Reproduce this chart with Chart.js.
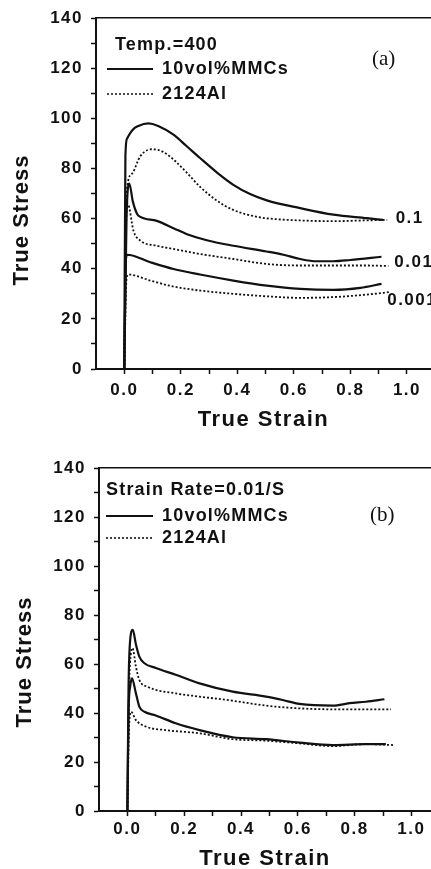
<!DOCTYPE html>
<html>
<head>
<meta charset="utf-8">
<script src="https://cdn.jsdelivr.net/npm/chart.js@4.4.0/dist/chart.umd.min.js"></script>
<style>
  html, body { margin: 0; padding: 0; background: #fff; overflow: hidden; }
  .panel { position: absolute; left: 0; width: 431px; }
  #pa { top: 0; height: 434px; }
  #pb { top: 434px; height: 440px; }
</style>
</head>
<body>
<div class="panel" id="pa"><canvas id="chartA" width="431" height="434"></canvas></div>
<div class="panel" id="pb"><canvas id="chartB" width="431" height="440"></canvas></div>
<script>
// tick values
const xTickVals = [0, 0.1, 0.2, 0.3, 0.4, 0.5, 0.6, 0.7, 0.8, 0.9, 1.0];
const yTickStep = 10;

// (a) Temp.=400, three strain rates
const aMmc01Strain = [0, 0.004, 0.01, 0.03, 0.05, 0.085, 0.12, 0.174, 0.22, 0.268, 0.327, 0.386, 0.445, 0.504, 0.622, 0.74, 0.858, 0.915];
const aMmc01Stress = [0, 85, 92, 95.5, 97, 98, 97, 93.5, 89, 84.2, 78.5, 73.5, 69.8, 67.3, 64.2, 61.6, 60.2, 59.5];
const aAl01Strain = [0, 0.006, 0.012, 0.028, 0.057, 0.1, 0.14, 0.18, 0.22, 0.27, 0.33, 0.385, 0.45, 0.5, 0.62, 0.74, 0.85, 0.93];
const aAl01Stress = [0, 60, 74, 78, 85, 87.7, 86.5, 83, 78.5, 72.5, 67, 63.5, 61.2, 60.2, 59.3, 59, 59.3, 59.5];

const aMmc001Strain = [0, 0.008, 0.018, 0.03, 0.045, 0.057, 0.115, 0.174, 0.222, 0.292, 0.386, 0.504, 0.563, 0.622, 0.681, 0.74, 0.799, 0.91];
const aMmc001Stress = [0, 60, 74, 67, 62, 60.7, 59.1, 56.2, 53.8, 51.4, 49.2, 46.9, 45.6, 43.9, 43, 43, 43.5, 44.8];
const aAl001Strain = [0, 0.006, 0.012, 0.033, 0.057, 0.115, 0.174, 0.268, 0.386, 0.504, 0.622, 0.74, 0.858, 0.934];
const aAl001Stress = [0, 55, 66, 55, 51.2, 49.2, 47.9, 45.9, 43.9, 41.9, 41.3, 41.3, 41.3, 41.1];

const aMmc0001Strain = [0, 0.006, 0.01, 0.092, 0.174, 0.268, 0.386, 0.504, 0.622, 0.74, 0.835, 0.91];
const aMmc0001Stress = [0, 44, 45.6, 42.6, 39.9, 37.7, 35.3, 33.3, 32, 31.6, 32.4, 34];
const aAl0001Strain = [0, 0.008, 0.015, 0.092, 0.174, 0.268, 0.386, 0.504, 0.622, 0.74, 0.858, 0.94];
const aAl0001Stress = [0, 36, 37.7, 35.3, 32.9, 31.3, 30, 29, 28.4, 28.7, 29.7, 30.7];

// (b) Strain Rate=0.01/S, two temperatures
const bMmcHiStrain = [0, 0.004, 0.009, 0.019, 0.03, 0.042, 0.06, 0.1, 0.17, 0.254, 0.371, 0.488, 0.547, 0.606, 0.723, 0.782, 0.84, 0.905];
const bMmcHiStress = [0, 50, 68.6, 73.9, 68, 63, 60.3, 58.4, 55.6, 52.1, 48.7, 46.7, 45.3, 43.7, 43, 44, 44.6, 45.6];
const bAlHiStrain = [0, 0.006, 0.012, 0.018, 0.03, 0.042, 0.072, 0.17, 0.254, 0.371, 0.488, 0.606, 0.723, 0.84, 0.928];
const bAlHiStress = [0, 50, 64, 66.5, 58.9, 53.5, 50.7, 48, 46.7, 45, 43, 41.9, 41.5, 41.5, 41.5];

const bMmcLoStrain = [0, 0.004, 0.01, 0.016, 0.03, 0.042, 0.06, 0.1, 0.17, 0.254, 0.371, 0.488, 0.606, 0.723, 0.84, 0.91];
const bMmcLoStress = [0, 40, 51, 54.1, 48, 42.6, 40.5, 39, 35.8, 33, 30.1, 29.3, 27.9, 26.9, 27.3, 27.3];
const bAlLoStrain = [0, 0.006, 0.013, 0.03, 0.066, 0.136, 0.254, 0.371, 0.488, 0.606, 0.723, 0.84, 0.94];
const bAlLoStress = [0, 35, 40.5, 37.1, 34.4, 33, 31.7, 29.3, 28.7, 27.6, 26.5, 27.3, 26.9];

const rateLabels = ['0.1', '0.01', '0.001'];
const rateLabelAt = [[0.96, 60], [0.955, 42.5], [0.93, 27.5]];

const INK = '#111';
const pts = (xs, ys) => xs.map((x, i) => ({x: x, y: ys[i]}));
const solid = (xs, ys) => ({data: pts(xs, ys), borderColor: INK, borderWidth: 2.2, pointRadius: 0, showLine: true, cubicInterpolationMode: 'monotone'});
const dotted = (xs, ys) => ({data: pts(xs, ys), borderColor: INK, borderWidth: 1.8, borderDash: [2, 2], pointRadius: 0, showLine: true, cubicInterpolationMode: 'monotone'});

function decoPlugin(cfg) {
  return {
    id: 'deco',
    beforeDraw(chart) {
      chart.ctx.letterSpacing = '1.5px';
    },
    afterDraw(chart) {
      const ctx = chart.ctx;
      const xs = chart.scales.x, ys = chart.scales.y;
      ctx.save();
      ctx.fillStyle = INK;
      ctx.strokeStyle = INK;
      // y axis title
      ctx.font = 'bold 22px "Liberation Sans", Arial, sans-serif';
      ctx.letterSpacing = '1px';
      ctx.textAlign = 'center';
      ctx.textBaseline = 'middle';
      ctx.save();
      ctx.translate(cfg.yTitle[0], cfg.yTitle[1]);
      ctx.rotate(-Math.PI / 2);
      ctx.fillText('True Stress', 0, 0);
      ctx.restore();
      // legend block
      ctx.font = 'bold 18px "Liberation Sans", Arial, sans-serif';
      ctx.letterSpacing = '1.2px';
      ctx.textAlign = 'left';
      ctx.fillText(cfg.heading, cfg.headX, cfg.headY);
      ctx.lineWidth = 2;
      ctx.setLineDash([]);
      ctx.beginPath(); ctx.moveTo(cfg.lx0, cfg.solidY); ctx.lineTo(cfg.lx1, cfg.solidY); ctx.stroke();
      ctx.lineWidth = 1.6;
      ctx.setLineDash([2, 2]);
      ctx.beginPath(); ctx.moveTo(cfg.lx0, cfg.dotY); ctx.lineTo(cfg.lx1, cfg.dotY); ctx.stroke();
      ctx.setLineDash([]);
      ctx.fillText('10vol%MMCs', cfg.tx, cfg.solidY);
      ctx.fillText('2124Al', cfg.tx, cfg.dotY);
      // panel tag
      ctx.font = '21px "Liberation Serif", "Times New Roman", serif';
      ctx.letterSpacing = '0px';
      ctx.fillText(cfg.tag, cfg.tagX, cfg.tagY);
      // strain-rate labels
      if (cfg.rates) {
        ctx.font = 'bold 17px "Liberation Sans", Arial, sans-serif';
        ctx.letterSpacing = '1.5px';
        rateLabels.forEach((t, i) => {
          ctx.fillText(t, xs.getPixelForValue(rateLabelAt[i][0]), ys.getPixelForValue(rateLabelAt[i][1]));
        });
      }
      ctx.restore();
    }
  };
}

function makeChart(id, datasets, opt) {
  return new Chart(document.getElementById(id), {
    type: 'scatter',
    data: {datasets: datasets},
    options: {
      responsive: false,
      animation: false,
      devicePixelRatio: 1,
      layout: {padding: {left: 0, right: 0, top: opt.top, bottom: 0}},
      plugins: {legend: {display: false}, tooltip: {enabled: false}},
      scales: {
        x: {
          type: 'linear', position: 'bottom', min: -0.1, max: opt.xMax,
          afterBuildTicks: s => { s.ticks = xTickVals.map(v => ({value: v})); },
          afterFit: s => { s.height = opt.xH; },
          ticks: {
            color: INK, padding: opt.xPad, maxRotation: 0, autoSkip: false,
            font: {family: '"Liberation Sans", Arial, sans-serif', size: 17, weight: 'bold'},
            callback: v => (Math.round(v * 10) % 2 === 0 ? v.toFixed(1) : '')
          },
          grid: {display: true, drawOnChartArea: false, drawTicks: true, tickLength: 5, tickWidth: 1.5, tickColor: INK},
          border: {display: true, color: INK, width: 2},
          title: {display: true, text: 'True Strain', color: INK, padding: {top: 0, bottom: opt.tPad},
                  font: {family: '"Liberation Sans", Arial, sans-serif', size: 22, weight: 'bold'}}
        },
        xTop: {
          type: 'linear', position: 'top', min: 0, max: 1,
          afterFit: s => { s.height = 0; },
          ticks: {display: false},
          grid: {display: false},
          border: {display: true, color: INK, width: 1.5}
        },
        y: {
          type: 'linear', position: 'left', min: 0, max: 140,
          afterFit: s => { s.width = opt.yW; },
          ticks: {
            stepSize: yTickStep, color: INK, padding: 8, autoSkip: false,
            font: {family: '"Liberation Sans", Arial, sans-serif', size: 17, weight: 'bold'},
            callback: v => (v % 20 === 0 ? String(v) : '')
          },
          grid: {display: true, drawOnChartArea: false, drawTicks: true, tickLength: 5, tickWidth: 1.5, tickColor: INK},
          border: {display: true, color: INK, width: 2},
          title: {display: false}
        }
      }
    },
    plugins: [decoPlugin(opt.deco)]
  });
}

makeChart('chartA', [
  solid(aMmc01Strain, aMmc01Stress), dotted(aAl01Strain, aAl01Stress),
  solid(aMmc001Strain, aMmc001Stress), dotted(aAl001Strain, aAl001Stress),
  solid(aMmc0001Strain, aMmc0001Stress), dotted(aAl0001Strain, aAl0001Stress)
], {
  top: 16, xMax: 1.085, xH: 65, yW: 96, xPad: 6, tPad: 1,
  deco: {yTitle: [22, 220], heading: 'Temp.=400', headX: 115, headY: 45,
         lx0: 107, lx1: 153, solidY: 69, dotY: 94, tx: 162,
         tag: '(a)', tagX: 372, tagY: 59, rates: true}
});

makeChart('chartB', [
  solid(bMmcHiStrain, bMmcHiStress), dotted(bAlHiStrain, bAlHiStress),
  solid(bMmcLoStrain, bMmcLoStress), dotted(bAlLoStrain, bAlLoStress)
], {
  top: 34, xMax: 1.069, xH: 63, yW: 99, xPad: 3, tPad: 2,
  deco: {yTitle: [25, 228], heading: 'Strain Rate=0.01/S', headX: 106, headY: 56,
         lx0: 106, lx1: 153, solidY: 82, dotY: 104, tx: 162,
         tag: '(b)', tagX: 370, tagY: 81, rates: false}
});
</script>
</body>
</html>
